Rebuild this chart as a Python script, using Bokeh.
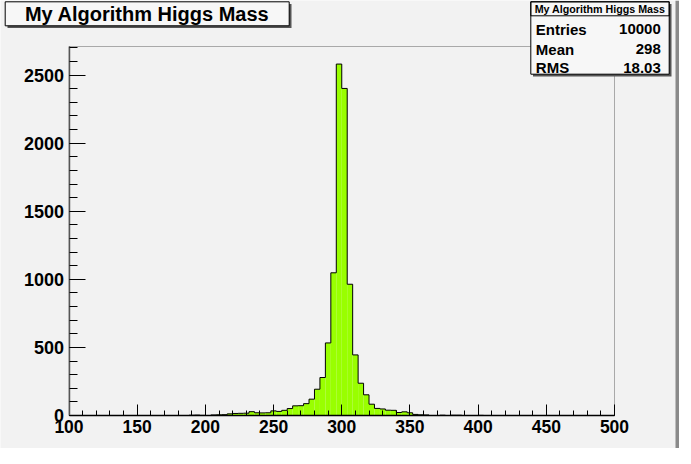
from bokeh.plotting import figure
from bokeh.models import BoxAnnotation, Label, Range1d, FixedTicker
from bokeh.embed import file_html
from bokeh.resources import INLINE

# ---- data -------------------------------------------------------------
hist_title = "My Algorithm Higgs Mass"
x_low, x_high, n_bins = 100, 500, 100
counts = [0] * 22 + [
    2, 3, 1, 0, 4, 5, 6, 12, 15, 16, 17, 28, 20, 19, 20, 34, 30, 38,
    51, 71, 72, 87, 120, 193, 279, 533, 1048, 2581, 2402, 964, 445,
    237, 152, 83, 52, 48, 39, 38, 22, 27, 20, 8, 5, 4, 0, 0, 2, 0, 2,
    2, 0, 0, 0, 1,
] + [0] * 24
stat_names = ["Entries", "Mean", "RMS"]
stat_values = ["10000", "298", "18.03"]
x_ticks = [100, 150, 200, 250, 300, 350, 400, 450, 500]
x_minor = list(range(100, 501, 10))
y_ticks = [0, 500, 1000, 1500, 2000, 2500]
y_minor = list(range(0, 2701, 100))
y_max = 2710

bw = (x_high - x_low) / n_bins
edges = [x_low + i * bw for i in range(n_bins + 1)]

# ---- layout (canvas pixels, measured from the top-left corner) --------
W, H = 679, 448
FL, FR, FT, FB = 68.5, 614.0, 46.0, 415.0   # histogram frame box
kx = (FR - FL) / (x_high - x_low)
ky = (FB - FT) / y_max
xr = Range1d(x_low - FL / kx, x_high + (W - FR) / kx)
yr = Range1d(-(H - FB) / ky, y_max + FT / ky)

BG = "#f2f2f2"
FONT = "Liberation Sans"

p = figure(width=W, height=H, x_range=xr, y_range=yr,
           output_backend="svg", toolbar_location=None, min_border=0)
p.background_fill_color = BG
p.border_fill_color = BG
p.grid.visible = False
p.outline_line_color = None

# histogram fill
nz = [i for i, c in enumerate(counts) if c > 0]
p.quad(left=[edges[i] for i in nz], right=[edges[i + 1] for i in nz],
       bottom=0, top=[counts[i] for i in nz],
       fill_color="#99ff00", line_color=None)
# histogram contour
p.step(x=edges, y=counts + [counts[-1]], mode="after",
       line_color="black", line_width=1)

# axes, pinned at the frame edges
p.xaxis.fixed_location = 0
p.yaxis.fixed_location = x_low
p.xaxis.bounds = (x_low, x_high)
p.yaxis.bounds = (0, y_max)
for ax in (p.xaxis[0], p.yaxis[0]):
    ax.major_tick_out = 0
    ax.minor_tick_out = 0
    ax.major_tick_line_color = "black"
    ax.minor_tick_line_color = "black"
    ax.major_label_text_font = FONT
    ax.major_label_text_font_style = "bold"
    ax.major_label_text_color = "black"

p.xaxis.ticker = FixedTicker(ticks=x_ticks, minor_ticks=x_minor)
p.xaxis.major_tick_in = 11
p.xaxis.minor_tick_in = 5
p.xaxis.major_label_text_font_size = "17.5px"
p.xaxis.major_label_standoff = 4
p.xaxis.axis_line_color = "black"
p.xaxis.axis_line_width = 1.5

p.yaxis.ticker = FixedTicker(ticks=y_ticks, minor_ticks=y_minor)
p.yaxis.major_tick_in = 16
p.yaxis.minor_tick_in = 8
p.yaxis.major_label_text_font_size = "18px"
p.yaxis.major_label_standoff = 5
p.yaxis.axis_line_color = "#666666"
p.yaxis.axis_line_width = 1.5

# top and right edges of the histogram frame
p.add_layout(BoxAnnotation(left=x_low, right=x_high, bottom=0, top=y_max,
                           fill_alpha=0, line_color="black", line_width=1))


# screen units: measured from the frame's bottom-left (= canvas here)
def sx(x):
    return x


def sy(y):
    return H - y


def box(l, t, r, b, fill, line="black", lw=1):
    return BoxAnnotation(left=sx(l), right=sx(r), top=sy(t), bottom=sy(b),
                         left_units="screen", right_units="screen",
                         top_units="screen", bottom_units="screen",
                         fill_color=fill if fill else "white",
                         fill_alpha=1 if fill else 0,
                         line_color=line if line else "black", line_width=lw,
                         line_alpha=1 if line else 0)


def label(x, y, text, size, align):
    return Label(x=sx(x), y=sy(y), x_units="screen", y_units="screen",
                 text=text, text_font=FONT, text_font_style="bold",
                 text_font_size=size, text_align=align,
                 text_baseline="middle", text_color="black")


# title pave with shadow
p.add_layout(box(7.0, 3.5, 291.0, 27.5, "#555555", None))
p.add_layout(box(4.7, 1.3, 288.7, 25.3, "#f7f7f7"))
p.add_layout(label(146.7, 13.5, hist_title, "20px", "center"))

# stats pave with shadow
p.add_layout(box(532.5, 3.5, 671.0, 76.0, "#555555", None))
p.add_layout(box(530.3, 1.3, 668.7, 73.7, "#f7f7f7"))
p.add_layout(box(530.3, 1.3, 668.7, 15.3, None))
p.add_layout(label(599.5, 8.5, hist_title, "10.7px", "center"))
row_y = [28.7, 48.7, 67.0]
for name, val, yy in zip(stat_names, stat_values, row_y):
    p.add_layout(label(535.3, yy, name, "15px", "left"))
    p.add_layout(label(660.3, yy, val, "15px", "right"))

# canvas right-edge shadow
p.add_layout(box(675, 0, 679, H, "#8a8a8a", None))

open("out.html", "w").write(file_html(p, INLINE))
